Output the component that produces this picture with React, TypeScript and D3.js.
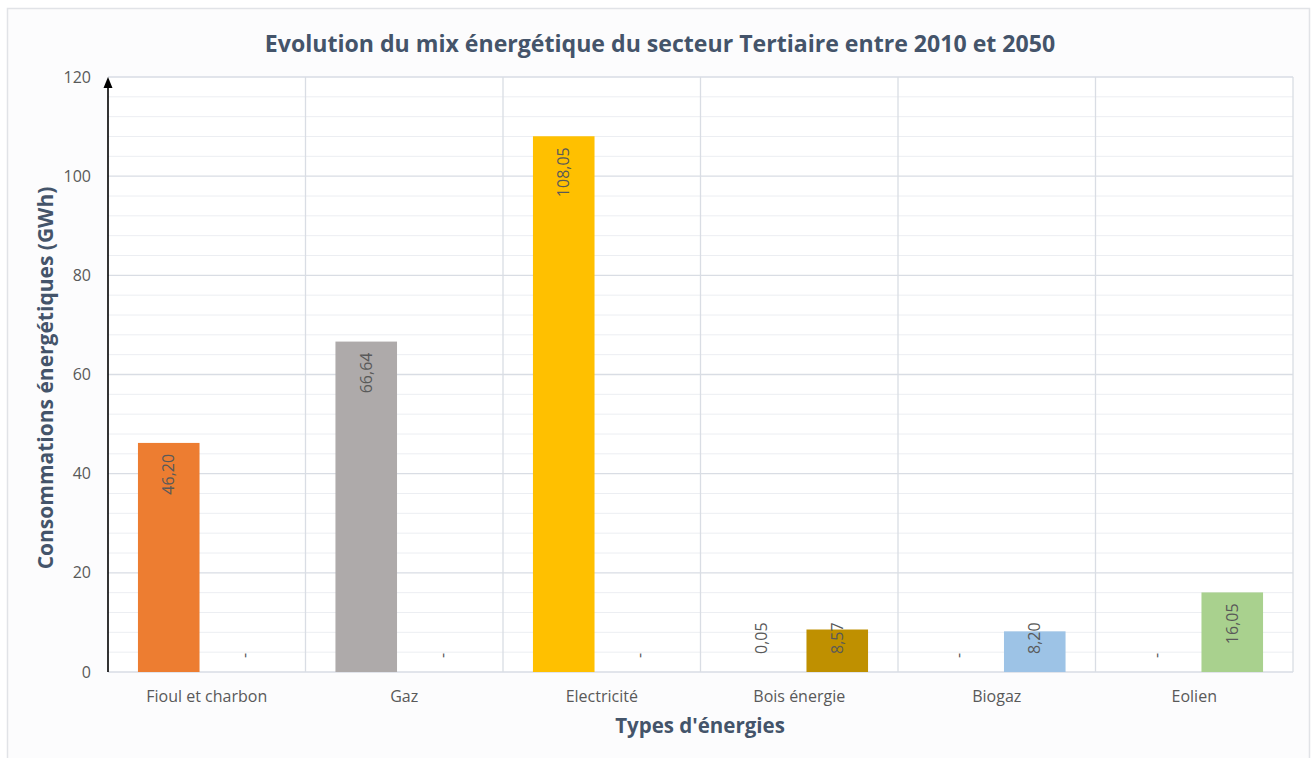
import React from "react";
import * as d3 from "d3";

const categories = ["Fioul et charbon", "Gaz", "Electricité", "Bois énergie", "Biogaz", "Eolien"];
const series = ["2010", "2050"];
const values2010 = [46.2, 66.64, 108.05, 0.05, 0, 0];
const values2050 = [0, 0, 0, 8.57, 8.2, 16.05];
const barColors = ["#ed7d31", "#aeaaaa", "#ffc000", "#bf9000", "#9dc3e6", "#a9d18e"];
const yTicks = [0, 20, 40, 60, 80, 100, 120];
const yMinorTicks = d3.range(0, 121, 4);

const title = "Evolution du mix énergétique du secteur Tertiaire entre 2010 et 2050";
const yTitle = "Consommations énergétiques (GWh)";
const xTitle = "Types d'énergies";

const W = 1313;
const H = 758;
const FONT = "'Open Sans', 'DejaVu Sans', sans-serif";

const fmt = (v: number) => (v === 0 ? "-" : d3.format(".2f")(v).replace(".", ","));
const estLen = (s: string) =>
  Array.from(s).reduce((a, c) => a + (c === "," ? 4.2 : c === "-" ? 5.1 : 9.15), 0);

export default function App() {
  const x0 = d3.scaleBand<string>().domain(categories).range([108, 1293]).padding(0);
  const x1 = d3
    .scaleBand<string>()
    .domain(series)
    .range([0, x0.bandwidth()])
    .paddingInner(0.19)
    .paddingOuter(0.394);
  const y = d3.scaleLinear().domain([0, 120]).range([672, 77]);
  const baseline = y(0);

  const bars: { key: string; x: number; w: number; v: number; color: string }[] = [];
  categories.forEach((c, i) => {
    [values2010[i], values2050[i]].forEach((v, j) => {
      bars.push({
        key: c + series[j],
        x: (x0(c) as number) + (x1(series[j]) as number),
        w: x1.bandwidth(),
        v,
        color: barColors[i],
      });
    });
  });

  const gridMajor = "#d9dde4";
  const gridMinor = "#eceef2";
  const left = x0.range()[0];
  const right = x0.range()[1];

  return (
    <svg
      width={W}
      height={H}
      style={{ position: "absolute", left: 0, top: 0, background: "#ffffff" }}
      fontFamily={FONT}
    >
      <rect x={7.5} y={8.5} width={1302} height={760} fill="#fcfcfd" stroke="#e1e3e7" strokeWidth={1.5} />
      <rect x={left} y={y(120)} width={right - left} height={baseline - y(120)} fill="#ffffff" />

      {yMinorTicks
        .filter((t) => t % 20 !== 0)
        .map((t) => (
          <line key={"mn" + t} x1={left} x2={right} y1={y(t)} y2={y(t)} stroke={gridMinor} strokeWidth={1} />
        ))}
      {yTicks.map((t) => (
        <line key={"mj" + t} x1={left} x2={right} y1={y(t)} y2={y(t)} stroke={gridMajor} strokeWidth={1.3} />
      ))}
      {categories.map((c) => (
        <line
          key={"v" + c}
          x1={(x0(c) as number) + x0.bandwidth()}
          x2={(x0(c) as number) + x0.bandwidth()}
          y1={y(120)}
          y2={baseline}
          stroke={gridMajor}
          strokeWidth={1.3}
        />
      ))}

      {bars.map((b) =>
        baseline - y(b.v) >= 1 ? (
          <rect key={b.key} x={b.x} y={y(b.v)} width={b.w} height={baseline - y(b.v)} fill={b.color} />
        ) : null
      )}

      {bars.map((b) => {
        const s = fmt(b.v);
        const len = estLen(s);
        const top = y(b.v);
        const cx = b.x + b.w / 2;
        const inside = top + 11 + len <= baseline - 18;
        const ty = inside ? top + 11 : s === "-" ? baseline - 14 : baseline - 18;
        return (
          <text
            key={"l" + b.key}
            transform={`translate(${cx},${ty}) rotate(-90)`}
            textAnchor={inside ? "end" : "start"}
            dy="0.35em"
            fontSize={16}
            fill="#595959"
          >
            {s}
          </text>
        );
      })}

      {/* y axis with arrow */}
      <line x1={left} x2={left} y1={baseline} y2={y(120) + 8} stroke="#000" strokeWidth={1.6} />
      <path d={`M${left},${y(120)} L${left - 4.5},${y(120) + 11} L${left + 4.5},${y(120) + 11} Z`} fill="#000" />

      {yTicks.map((t) => (
        <text key={"yt" + t} x={91} y={y(t)} dy="0.35em" textAnchor="end" fontSize={16} fill="#595959">
          {t}
        </text>
      ))}

      {categories.map((c) => (
        <text
          key={"xt" + c}
          x={(x0(c) as number) + x0.bandwidth() / 2}
          y={702}
          textAnchor="middle"
          fontSize={16}
          fill="#595959"
        >
          {c}
        </text>
      ))}

      <text x={660} y={52} textAnchor="middle" fontSize={23.1} fontWeight="bold" fill="#44546a">
        {title}
      </text>
      <text
        transform={`translate(53,378) rotate(-90)`}
        textAnchor="middle"
        fontSize={21}
        fontWeight="bold"
        fill="#44546a"
      >
        {yTitle}
      </text>
      <text x={700} y={733} textAnchor="middle" fontSize={20.5} fontWeight="bold" fill="#44546a">
        {xTitle}
      </text>
    </svg>
  );
}
